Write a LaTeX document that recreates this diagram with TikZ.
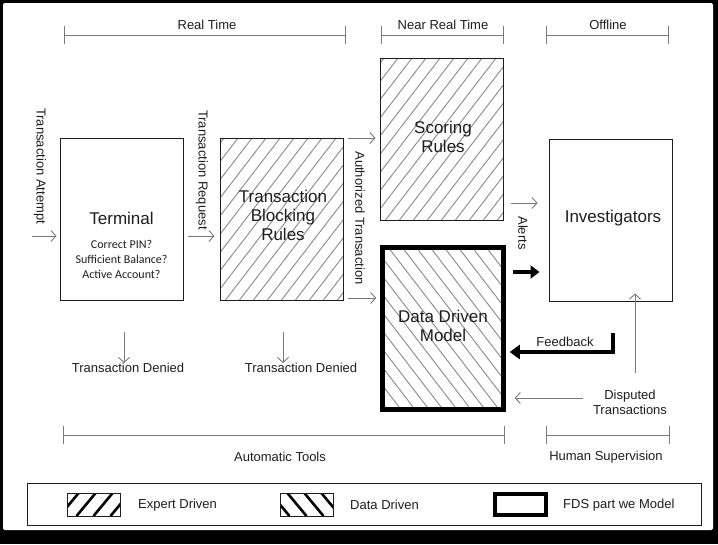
\documentclass[tikz,border=0pt]{standalone}
\usepackage{fontspec}
\setmainfont{Liberation Sans}
\newfontfamily\listfont{Carlito}
\usetikzlibrary{arrows.meta}

\definecolor{ink}{HTML}{1E1E1E}
\definecolor{wire}{HTML}{7A7A7A}
\definecolor{hatchgray}{HTML}{8A8A8A}

\tikzset{
  box/.style={draw=ink, line width=1pt, minimum width=123pt, minimum height=162pt, inner sep=0pt},
  expertfill/.style={path picture={
      \foreach \k in {-14,...,14}
        \draw[hatchgray, line width=0.9pt]
          ([xshift=\k*14pt]path picture bounding box.south) -- ++(130pt,169pt);
    }},
  datafill/.style={path picture={
      \foreach \k in {-14,...,14}
        \draw[hatchgray, line width=0.9pt]
          ([xshift=\k*14pt]path picture bounding box.south) -- ++(-130pt,169pt);
    }},
  swatchexpert/.style={draw=ink, line width=0.8pt, path picture={
      \foreach \k in {-3,...,3}
        \draw[black, line width=2.6pt]
          ([xshift=\k*17pt]path picture bounding box.south) -- ++(25pt,30pt);
    }},
  swatchdata/.style={draw=ink, line width=0.8pt, path picture={
      \foreach \k in {-3,...,3}
        \draw[black, line width=2.6pt]
          ([xshift=\k*17pt]path picture bounding box.south) -- ++(-25pt,30pt);
    }},
  flow/.style={draw=wire, line width=0.9pt, -{Straight Barb[length=5pt,width=11pt,line width=0.9pt]}},
  bold/.style={draw=black, line width=4pt, -{Triangle[length=9pt,width=13pt]}},
  span/.style={draw=wire, line width=1pt, {|[width=18pt]}-{|[width=18pt]}},
  lbl/.style={text=ink, font=\fontsize{13}{15}\selectfont, inner sep=0pt},
  title/.style={text=ink, font=\fontsize{17}{19}\selectfont, align=center, inner sep=0pt},
  side/.style={lbl, rotate=-90},
}

\begin{document}
\begin{tikzpicture}[x=1pt, y=-1pt]
  % frame
  \fill[black] (0,0) rectangle (718,544);
  \fill[white, rounded corners=2pt] (3,3) rectangle (713,530);
  \useasboundingbox (0,0) rectangle (718,544);

  % time spans along the top
  \coordinate (rt1) at (64,35);  \coordinate (rt2) at (346,35);
  \coordinate (nr1) at (381,35); \coordinate (nr2) at (504,35);
  \coordinate (of1) at (546,35); \coordinate (of2) at (669,35);
  \draw[span] (rt1) -- (rt2);
  \draw[span] (nr1) -- (nr2);
  \draw[span] (of1) -- (of2);
  \node[lbl] (trt) at (207,25) {Real Time};
  \node[lbl] (tnr) at (443,25) {Near Real Time};
  \node[lbl] (tof) at (608,25) {Offline};

  % main blocks
  \node[box] (terminal) at (121.5,219) {};
  \node[title] (termtxt) at (121.5,218) {Terminal};
  \node[text=ink, font=\listfont\fontsize{12}{15}\selectfont, align=center, inner sep=0pt, anchor=north]
    (checks) at (121.5,240) {Correct PIN?\\Sufficient Balance?\\Active Account?};

  \node[box, expertfill] (blocking) at (281.5,219) {};
  \node[title] (blocktxt) at (283,215) {Transaction\\Blocking\\Rules};

  \node[box, expertfill] (scoring) at (441.5,139) {};
  \node[title] (scoretxt) at (443,137) {Scoring\\Rules};

  \node[box, datafill, line width=4.5pt, draw=black, minimum width=121pt] (ddm) at (443,328.5) {};
  \node[title] (ddmtxt) at (443,326) {Data Driven\\Model};

  \node[box] (invest) at (610.5,220) {};
  \node[title] (investtxt) at (613,218) {Investigators};

  % inputs on the left
  \coordinate (in1) at (32,236);
  \draw[flow] (in1) -- ([xshift=-3pt]terminal.west |- in1);
  \node[side, anchor=west] (attempt) at (40,108) {Transaction Attempt};
  \coordinate (in2) at (188,236);
  \draw[flow] (in2) -- ([xshift=-5pt]blocking.west |- in2);
  \node[side, anchor=west] (request) at (202,110) {Transaction Request};

  % authorized transactions to both scorers
  \coordinate (au1) at (348,138);
  \coordinate (au2) at (348,298);
  \draw[flow] (au1) -- ([xshift=-4pt]scoring.west |- au1);
  \draw[flow] (au2) -- ([xshift=-4pt]ddm.west |- au2);
  \node[side] (authorized) at (360,218) {Authorized Transaction};

  % denials
  \node[lbl] (deny1) at (128,368) {Transaction Denied};
  \node[lbl] (deny2) at (301,368) {Transaction Denied};
  \draw[flow] (124,332) -- (deny1.north -| 124,0);
  \draw[flow] (283,332) -- (deny2.north -| 283,0);

  % alerts to investigators
  \coordinate (al1) at (511,203);
  \draw[flow] (al1) -- ([xshift=-11pt]invest.west |- al1);
  \node[side] (alerts) at (523,233) {Alerts};
  \coordinate (al2) at (513,272);
  \draw[bold] (al2) -- ([xshift=-9pt]invest.west |- al2);

  % feedback loop
  \coordinate (fb) at (613,333);
  \draw[bold, -{Triangle[length=10pt,width=14pt]}] (fb) |- ([xshift=4pt]ddm.east |- 0,352);
  \node[lbl] (feedback) at (565,342) {Feedback};

  % disputed transactions
  \node[lbl, align=center] (disputed) at (630,402) {Disputed\\Transactions};
  \draw[flow] (583,398) -- ([xshift=9pt]ddm.east |- 0,398);
  \draw[flow] (635,373) -- ([yshift=8pt]invest.south -| 635,0);

  % spans along the bottom
  \coordinate (at1) at (63,435);  \coordinate (at2) at (505,435);
  \coordinate (hs1) at (546,435); \coordinate (hs2) at (670,435);
  \draw[span] (at1) -- (at2);
  \draw[span] (hs1) -- (hs2);
  \node[lbl] (auto) at (280,457) {Automatic Tools};
  \node[lbl] (human) at (606,457) {Human Supervision};

  % legend
  \node[draw=ink, line width=0.9pt, minimum width=674pt, minimum height=42pt, inner sep=0pt] (legend) at (364,504) {};
  \node[swatchexpert, minimum width=53pt, minimum height=23pt, inner sep=0pt] (lexp) at (93.5,504.5) {};
  \node[lbl, anchor=west] (lexptxt) at (138,505) {Expert Driven};
  \node[swatchdata, minimum width=53pt, minimum height=23pt, inner sep=0pt] (ldat) at (306.5,504.5) {};
  \node[lbl, anchor=west] (ldattxt) at (350,505) {Data Driven};
  \node[draw=black, line width=4.5pt, minimum width=51pt, minimum height=21pt, inner sep=0pt] (lfds) at (520.5,504.5) {};
  \node[lbl, anchor=west] (lfdstxt) at (563,505) {FDS part we Model};
\end{tikzpicture}
\end{document}
